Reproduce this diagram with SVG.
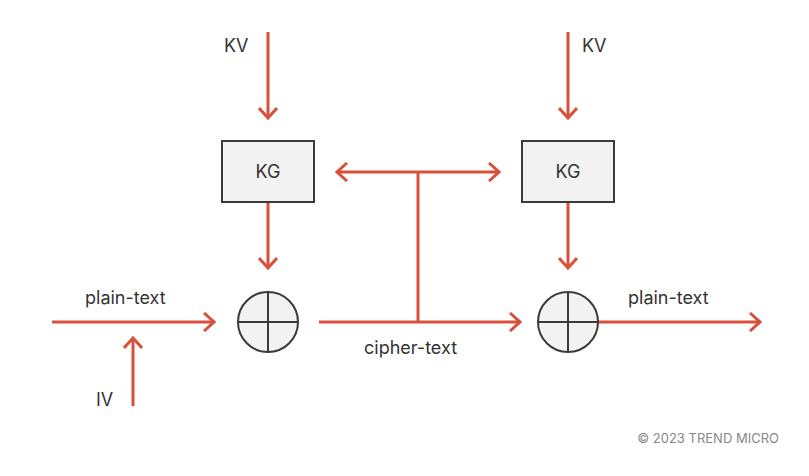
<svg xmlns="http://www.w3.org/2000/svg" width="809" height="476" viewBox="0 0 809 476">
<defs>
<marker id="ah" viewBox="0 0 20 20" refX="18" refY="10" markerWidth="20" markerHeight="20" markerUnits="userSpaceOnUse" orient="auto-start-reverse">
<path d="M8 1 L18 10 L8 19" fill="none" stroke="#d9503a" stroke-width="3"/>
</marker>
<style>
.c{stroke:#d9503a;stroke-width:3;fill:none}
.a{marker-end:url(#ah)}
.n{fill:#f2f2f2;stroke:#3a3a3a;stroke-width:2}
text{font-family:Inter,"Liberation Sans",sans-serif;fill:#333;font-size:18px}
text.cp{font-size:13px;fill:#888}
</style>
</defs>
<rect width="809" height="476" fill="#fff"/>
<g id="connectors">
<line class="c a" x1="268" y1="32" x2="268" y2="118"/>
<line class="c a" x1="568" y1="32" x2="568" y2="118"/>
<line class="c a" x1="268" y1="202" x2="268" y2="268"/>
<line class="c a" x1="568" y1="202" x2="568" y2="268"/>
<line class="c a" x1="52" y1="322" x2="214" y2="322"/>
<line class="c a" x1="133" y1="406" x2="133" y2="338"/>
<line class="c a" x1="319" y1="322" x2="520" y2="322"/>
<line class="c" x1="418" y1="172" x2="418" y2="322"/>
<line class="c a" x1="418" y1="172" x2="499" y2="172"/>
<line class="c a" x1="418" y1="172" x2="337" y2="172"/>
<line class="c a" x1="598" y1="322" x2="760" y2="322"/>
</g>
<g id="kg1"><rect class="n" x="222" y="141" width="92" height="61"/><text x="268" y="178" text-anchor="middle">KG</text></g>
<g id="kg2"><rect class="n" x="522" y="141" width="92" height="61"/><text x="568" y="178" text-anchor="middle">KG</text></g>
<g id="xor1"><circle class="n" cx="268" cy="322" r="30"/><path d="M238 322H298M268 292V352" stroke="#3a3a3a" stroke-width="2"/></g>
<g id="xor2"><circle class="n" cx="568" cy="322" r="30"/><path d="M538 322H598M568 292V352" stroke="#3a3a3a" stroke-width="2"/></g>
<g id="labels">
<text x="224" y="52">KV</text>
<text x="582" y="52">KV</text>
<text x="85" y="304">plain-text</text>
<text x="628" y="304">plain-text</text>
<text x="364" y="354">cipher-text</text>
<text x="96" y="406">IV</text>
<text class="cp" x="779" y="443" text-anchor="end">© 2023 TREND MICRO</text>
</g>
</svg>
